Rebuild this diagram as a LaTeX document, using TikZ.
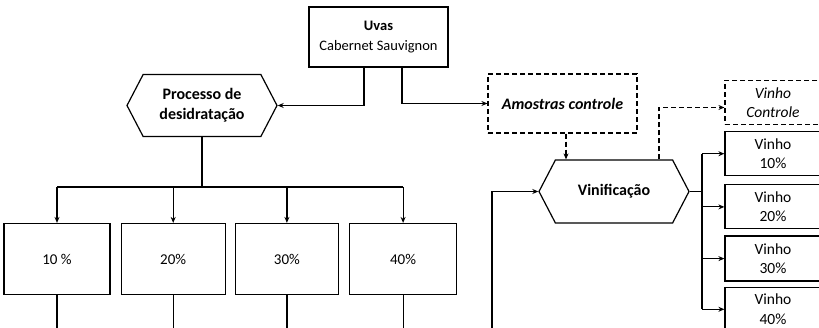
\documentclass[tikz,border=0pt]{standalone}
\usepackage{fontspec}
\setmainfont{Carlito}
\usepackage{tikz}
\usetikzlibrary{shapes.symbols, arrows.meta, positioning, calc}
\newcommand{\boldsize}{\fontsize{16pt}{20pt}\selectfont\bfseries}
\newcommand{\vinhosize}{\fontsize{15.5pt}{19.5pt}\selectfont}
\tikzset{
  block/.style = {rectangle, draw, align=center, inner sep=0pt,
    minimum width=106pt, minimum height=71pt,
    font=\fontsize{15pt}{20pt}\selectfont},
  vblock/.style = {rectangle, draw, align=center, inner sep=0pt,
    minimum width=96pt, minimum height=44pt, font=\vinhosize},
  dsblock/.style = {vblock, dashed, dash pattern=on 5pt off 3pt,
    font=\vinhosize\itshape},
  hexblock/.style = {signal, signal to=west and east, signal pointer angle=125,
    draw, align=center, inner sep=0pt, minimum width=150pt, minimum height=62pt,
    font=\boldsize},
  arrow/.style = {->, >={Stealth[length=6pt,width=5pt]}},
  dasharrow/.style = {arrow, dash pattern=on 5pt off 3pt},
}

\begin{document}
\fontsize{14.5pt}{20pt}\selectfont
\begin{tikzpicture}[x=1pt, y=-1pt, line width=1.2pt]
  \clip (0,0) rectangle (819,328);

  % Uvas e desidratacao
  \node[draw, align=center, minimum width=139pt, minimum height=60pt] (uvas)
    at (378.5,37) {\textbf{Uvas}\\Cabernet Sauvignon};
  \node[hexblock] (proc) at (202,105.5) {Processo de\\desidratação};
  \node[dsblock, font=\boldsize\itshape, minimum width=149pt, minimum height=59pt]
    (amostras) at (562.5,103.5) {Amostras controle};

  % Tratamentos
  \node[block] (p10) at (57,259) {10 \%};
  \node[block, minimum width=104pt, right=10pt of p10] (p20) {20\%};
  \node[block, minimum width=103pt, right=9pt of p20] (p30) {30\%};
  \node[block, minimum width=107pt, right=10pt of p30] (p40) {40\%};

  % Vinificacao e vinhos
  \node[hexblock, minimum height=63pt] (vinif) at (614,191.5) {Vinificação};
  \node[dsblock] (vctrl) at (773,102.5) {Vinho\\Controle};
  \node[vblock, below=6pt of vctrl] (v10) {Vinho\\10\%};
  \node[vblock, below=8pt of v10] (v20) {Vinho\\20\%};
  \node[vblock, minimum height=45pt, below=6pt of v20] (v30) {Vinho\\30\%};
  \node[vblock, below=5pt of v30] (v40) {Vinho\\40\%};

  \coordinate (bus) at (202,187);
  \coordinate (trunk) at (702,191.5);
  \coordinate (entrada) at (492,330);

  % Uvas arrows
  \draw[arrow] ([xshift=-14.5pt]uvas.south) |- (proc.east);
  \draw[arrow] ([xshift=23.5pt]uvas.south) |- (amostras.west);

  % Desidratacao arrows
  \draw (proc.south) -- (bus);
  \draw (p10.north |- bus) -- (p40.north |- bus);
  \foreach \p in {p10,p20,p30,p40}
    \draw[arrow] (\p.north |- bus) -- (\p.north);
  \foreach \p in {p10,p20,p30,p40}
    \draw (\p.south) -- ++(0,40);

  % Vinificacao arrows
  \draw[arrow] (entrada) |- (vinif.west);
  \draw[dasharrow] ([xshift=3.5pt]amostras.south) -- ([xshift=3.5pt]amostras.south |- vinif.north);
  \draw[dasharrow] ([xshift=45pt]vinif.north) |- ([yshift=-5pt]vctrl.west);
  \draw (vinif.east) -- (trunk);
  \draw (trunk |- v10.west) -- (trunk |- v40.west);
  \foreach \v in {v10,v20,v30,v40}
    \draw[arrow] (trunk |- \v.west) -- (\v.west);

\end{tikzpicture}
\end{document}
